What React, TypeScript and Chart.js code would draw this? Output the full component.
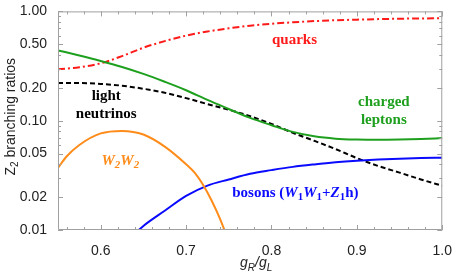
import React, { useEffect, useRef } from "react";
import { Chart, registerables } from "chart.js";

Chart.register(...registerables);

// ---- data ----
const X_MIN = 0.55;
const X_MAX = 1.0;
const Y_MIN = 0.01;
const Y_MAX = 1.0;

const gGrid = [0.55, 0.575, 0.6, 0.625, 0.65, 0.675, 0.7, 0.725, 0.75, 0.775, 0.8, 0.825, 0.85, 0.875, 0.9, 0.925, 0.95, 0.975, 1.0];
const quarks = [0.296, 0.308, 0.335, 0.39, 0.465, 0.535, 0.6, 0.655, 0.7, 0.74, 0.77, 0.795, 0.815, 0.83, 0.84, 0.85, 0.857, 0.862, 0.866];
const chargedLeptons = [0.44, 0.395, 0.352, 0.31, 0.268, 0.227, 0.19, 0.155, 0.128, 0.106, 0.091, 0.079, 0.072, 0.0685, 0.0672, 0.0668, 0.0672, 0.068, 0.0693];
const lightNeutrinos = [0.221, 0.221, 0.217, 0.209, 0.196, 0.18, 0.161, 0.142, 0.126, 0.11, 0.0935, 0.0775, 0.0655, 0.055, 0.0455, 0.0385, 0.0335, 0.029, 0.0254];

const bosonsX = [0.64, 0.65, 0.675, 0.7, 0.725, 0.75, 0.775, 0.8, 0.825, 0.85, 0.875, 0.9, 0.925, 0.95, 0.975, 1.0];
const bosons = [0.0093, 0.0109, 0.015, 0.0205, 0.0255, 0.029, 0.0327, 0.0353, 0.0378, 0.0398, 0.0416, 0.043, 0.0441, 0.0449, 0.0455, 0.0459];

const w2w2X = [0.55, 0.56, 0.575, 0.6, 0.625, 0.65, 0.675, 0.7, 0.71, 0.72, 0.73, 0.74, 0.75];
const w2w2 = [0.037, 0.047, 0.06, 0.0765, 0.0807, 0.0748, 0.058, 0.04, 0.0335, 0.0258, 0.0185, 0.0125, 0.0078];

const xMajorTicks = [0.6, 0.7, 0.8, 0.9, 1.0];
const xTickLabels = ["0.6", "0.7", "0.8", "0.9", "1.0"];
const yMajorTicks = [0.01, 0.02, 0.05, 0.1, 0.2, 0.5, 1.0];
const yTickLabels = ["0.01", "0.02", "0.05", "0.10", "0.20", "0.50", "1.00"];

// ---- styles ----
const RED = "#ff1a1a";
const GREEN = "#1ea01e";
const BLACK = "#000000";
const BLUE = "#0a0aff";
const ORANGE = "#ff8c1a";
const FRAME = "#a0a0a0";
const SANS = '"Liberation Sans", Arial, sans-serif';
const SERIF = '"Liberation Serif", "Times New Roman", serif';

type Seg = { t: string; sub?: boolean; it?: boolean };

function richWidth(ctx: CanvasRenderingContext2D, segs: Seg[], size: number, family: string, bold: boolean) {
  let w = 0;
  for (const s of segs) {
    ctx.font = `${s.it ? "italic " : ""}${bold ? "bold " : ""}${s.sub ? Math.round(size * 0.7) : size}px ${family}`;
    w += ctx.measureText(s.t).width;
  }
  return w;
}

function drawRich(
  ctx: CanvasRenderingContext2D,
  segs: Seg[],
  cx: number,
  baseline: number,
  size: number,
  color: string,
  family: string,
  bold: boolean,
  subShift: number
) {
  const w = richWidth(ctx, segs, size, family, bold);
  let x = cx - w / 2;
  ctx.fillStyle = color;
  ctx.textBaseline = "alphabetic";
  ctx.textAlign = "left";
  for (const s of segs) {
    ctx.font = `${s.it ? "italic " : ""}${bold ? "bold " : ""}${s.sub ? Math.round(size * 0.7) : size}px ${family}`;
    ctx.fillText(s.t, x, baseline + (s.sub ? subShift : 0));
    x += ctx.measureText(s.t).width;
  }
}

function minorX(): number[] {
  const out: number[] = [];
  for (let i = 56; i <= 98; i += 2) {
    if (i % 10 !== 0) out.push(i / 100);
  }
  return out;
}

function minorY(): number[] {
  const out: number[] = [];
  for (const dec of [0.01, 0.1]) {
    for (let k = 2; k <= 9; k++) {
      const v = +(k * dec).toFixed(3);
      if (!yMajorTicks.some((m) => Math.abs(m - v) < 1e-9)) out.push(v);
    }
  }
  return out;
}

const framePlugin = {
  id: "frameTicks",
  afterDatasetsDraw(chart: any) {
    const { ctx, chartArea } = chart;
    const { left, right, top, bottom } = chartArea;
    const xs = chart.scales.x;
    const ys = chart.scales.y;
    ctx.save();
    ctx.strokeStyle = FRAME;
    ctx.lineWidth = 1;
    ctx.beginPath();
    ctx.rect(left + 0.5, top + 0.5, right - left - 1, bottom - top - 1);
    ctx.stroke();
    const MAJ = 5;
    const MIN = 3;
    ctx.beginPath();
    const xt = (v: number, len: number) => {
      const p = Math.round(xs.getPixelForValue(v)) + 0.5;
      ctx.moveTo(p, bottom);
      ctx.lineTo(p, bottom - len);
      ctx.moveTo(p, top);
      ctx.lineTo(p, top + len);
    };
    const yt = (v: number, len: number) => {
      const p = Math.round(ys.getPixelForValue(v)) + 0.5;
      ctx.moveTo(left, p);
      ctx.lineTo(left + len, p);
      ctx.moveTo(right, p);
      ctx.lineTo(right - len, p);
    };
    xMajorTicks.forEach((v) => xt(v, MAJ));
    minorX().forEach((v) => xt(v, MIN));
    yMajorTicks.forEach((v) => yt(v, MAJ));
    minorY().forEach((v) => yt(v, MIN));
    ctx.stroke();
    ctx.restore();
  },
  afterDraw(chart: any) {
    const { ctx, chartArea } = chart;
    const xs = chart.scales.x;
    const ys = chart.scales.y;
    const px = (v: number) => xs.getPixelForValue(v);
    const py = (v: number) => ys.getPixelForValue(v);
    ctx.save();

    // y-axis title (rotated)
    ctx.save();
    ctx.translate(15, (chartArea.top + chartArea.bottom) / 2 - 4);
    ctx.rotate(-Math.PI / 2);
    drawRich(ctx, [{ t: "Z" }, { t: "2", sub: true }, { t: " branching ratios" }], 0, 0, 14, "#222", SANS, false, 3);
    ctx.restore();

    // x-axis title
    drawRich(
      ctx,
      [{ t: "g", it: true }, { t: "R", it: true, sub: true }, { t: "/", it: true }, { t: "g", it: true }, { t: "L", it: true, sub: true }],
      (chartArea.left + chartArea.right) / 2 + 6,
      267,
      14,
      "#222",
      SANS,
      false,
      4
    );

    // curve annotations
    drawRich(ctx, [{ t: "quarks" }], px(0.827), py(0.542) + 4, 15, RED, SERIF, true, 0);
    drawRich(ctx, [{ t: "light" }], px(0.6065), py(0.168) + 4, 15, BLACK, SERIF, true, 0);
    drawRich(ctx, [{ t: "neutrinos" }], px(0.6065), py(0.114) + 4, 15, BLACK, SERIF, true, 0);
    drawRich(ctx, [{ t: "charged" }], px(0.9316), py(0.148) + 4, 15, GREEN, SERIF, true, 0);
    drawRich(ctx, [{ t: "leptons" }], px(0.9316), py(0.101) + 4, 15, GREEN, SERIF, true, 0);
    drawRich(
      ctx,
      [{ t: "W", it: true }, { t: "2", it: true, sub: true }, { t: "W", it: true }, { t: "2", it: true, sub: true }],
      px(0.623),
      py(0.0427) + 4,
      15,
      ORANGE,
      SERIF,
      true,
      3
    );
    drawRich(
      ctx,
      [
        { t: "bosons (" },
        { t: "W", it: true },
        { t: "1", sub: true },
        { t: "W", it: true },
        { t: "1", sub: true },
        { t: "+" },
        { t: "Z", it: true },
        { t: "1", sub: true },
        { t: "h)" },
      ],
      px(0.828),
      py(0.022) + 4,
      15,
      BLUE,
      SERIF,
      true,
      3
    );
    ctx.restore();
  },
};

function series(xs: number[], ys: number[]) {
  return xs.map((x, i) => ({ x, y: ys[i] }));
}

export default function App() {
  const ref = useRef<HTMLCanvasElement | null>(null);

  useEffect(() => {
    document.body.style.margin = "0";
    const canvas = ref.current;
    if (!canvas) return;
    const common = {
      pointRadius: 0,
      borderWidth: 2,
      fill: false,
      cubicInterpolationMode: "monotone" as const,
      clip: 0,
    };
    const chart = new Chart(canvas, {
      type: "line",
      data: {
        datasets: [
          { ...common, label: "W2W2", data: series(w2w2X, w2w2), borderColor: ORANGE },
          { ...common, label: "bosons", data: series(bosonsX, bosons), borderColor: BLUE },
          { ...common, label: "charged leptons", data: series(gGrid, chargedLeptons), borderColor: GREEN },
          { ...common, label: "light neutrinos", data: series(gGrid, lightNeutrinos), borderColor: BLACK, borderDash: [5, 3] },
          { ...common, label: "quarks", data: series(gGrid, quarks), borderColor: RED, borderDash: [7, 3, 2, 3] },
        ],
      },
      options: {
        animation: false,
        responsive: false,
        maintainAspectRatio: false,
        layout: { padding: { top: 8, right: 11, left: 0, bottom: 0 } },
        plugins: { legend: { display: false }, tooltip: { enabled: false }, title: { display: false } },
        scales: {
          x: {
            type: "linear",
            min: X_MIN,
            max: X_MAX,
            grid: { display: false },
            border: { display: false },
            afterBuildTicks: (s: any) => {
              s.ticks = xMajorTicks.map((v) => ({ value: v }));
            },
            afterFit: (s: any) => {
              s.height = 47;
            },
            ticks: {
              autoSkip: false,
              maxRotation: 0,
              padding: 5,
              color: "#222",
              font: { family: SANS, size: 14 },
              callback: (v: any) => {
                const i = xMajorTicks.findIndex((m) => Math.abs(m - Number(v)) < 1e-9);
                return i >= 0 ? xTickLabels[i] : "";
              },
            },
          },
          y: {
            type: "logarithmic",
            min: Y_MIN,
            max: Y_MAX,
            grid: { display: false },
            border: { display: false },
            afterBuildTicks: (s: any) => {
              s.ticks = yMajorTicks.map((v) => ({ value: v }));
            },
            afterFit: (s: any) => {
              s.width = 58;
            },
            ticks: {
              autoSkip: false,
              padding: 3,
              color: "#222",
              font: { family: SANS, size: 14 },
              callback: (v: any) => {
                const i = yMajorTicks.findIndex((m) => Math.abs(m - Number(v)) < 1e-9);
                return i >= 0 ? yTickLabels[i] : "";
              },
            },
          },
        },
      },
      plugins: [framePlugin],
    } as any);
    return () => chart.destroy();
  }, []);

  return (
    <div style={{ width: 457, height: 277, background: "#fff" }}>
      <canvas ref={ref} width={457} height={277} style={{ display: "block" }} />
    </div>
  );
}
